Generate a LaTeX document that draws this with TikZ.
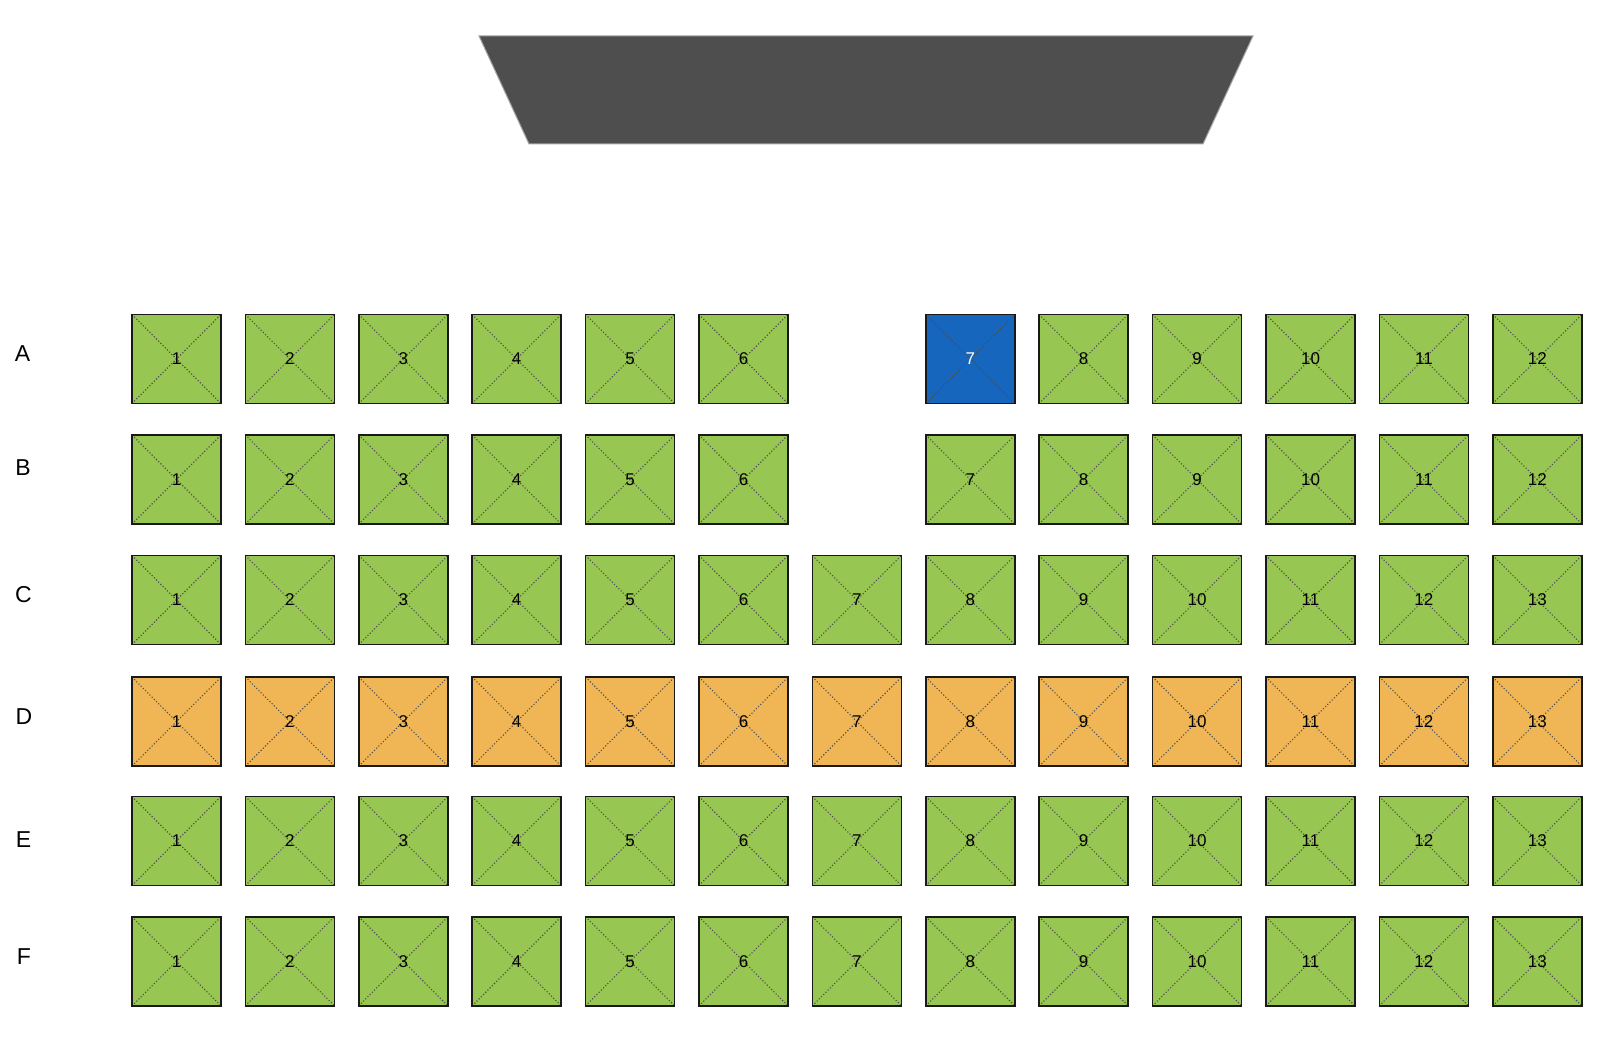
\documentclass[tikz,border=0pt]{standalone}
\usepackage{fontspec}
\setmainfont{Liberation Sans}
\usetikzlibrary{positioning}
\definecolor{seatgreen}{RGB}{152,198,82}
\definecolor{seatorange}{RGB}{240,182,85}
\definecolor{seatblue}{RGB}{22,102,190}
\definecolor{stagegray}{RGB}{78,78,78}

\begin{document}
\begin{tikzpicture}[x=1pt, y=-1pt,
    seat/.style={rectangle, draw=black!90, line width=1.5pt, fill=seatgreen, minimum size=89pt, inner sep=0pt,
        font=\fontsize{17}{17}\selectfont,
        path picture={\draw[black!70, dotted, line width=1.1pt] (path picture bounding box.north west) -- (path picture bounding box.south east)
            (path picture bounding box.south west) -- (path picture bounding box.north east);}},
    vip/.style={fill=seatorange},
    picked/.style={fill=seatblue, text=white},
    seat-A7/.style={picked},
    rowname/.style={font=\fontsize{23}{23}\selectfont}
]
\useasboundingbox (0,0) rectangle (1612,1040);

% stage
\filldraw[fill=stagegray, draw=black!35, line width=1pt] (479,36) -- (1253,36) -- (1203,144) -- (529,144) -- cycle;

% rows A and B have an aisle in column 7
\foreach \r/\y in {A/359, B/479.5} {
  \foreach \c in {0,...,12} {
    \ifnum\c=6 \else
      \pgfmathtruncatemacro\n{\c<6 ? \c+1 : \c}
      \node[seat, seat-\r\n/.try] (seat-\r\n) at (176.5+113.4*\c, \y) {\n};
    \fi
  }
}

% rows C to F
\foreach \r/\y in {C/600, E/841, F/961.3} {
  \foreach \c in {0,...,12} {
    \pgfmathtruncatemacro\n{\c+1}
    \node[seat] (seat-\r\n) at (176.5+113.4*\c, \y) {\n};
  }
}
\foreach \c in {0,...,12} {
  \pgfmathtruncatemacro\n{\c+1}
  \node[seat, vip] (seat-D\n) at (176.5+113.4*\c, 721.6) {\n};
}

% row names
\node[rowname] (row-A) at (22.5, 353.5) {A};
\node[rowname] (row-B) at (23, 468) {B};
\node[rowname] (row-C) at (23.5, 595) {C};
\node[rowname] (row-D) at (24, 716.5) {D};
\node[rowname] (row-E) at (23.5, 840) {E};
\node[rowname] (row-F) at (24, 957) {F};
\end{tikzpicture}
\end{document}
